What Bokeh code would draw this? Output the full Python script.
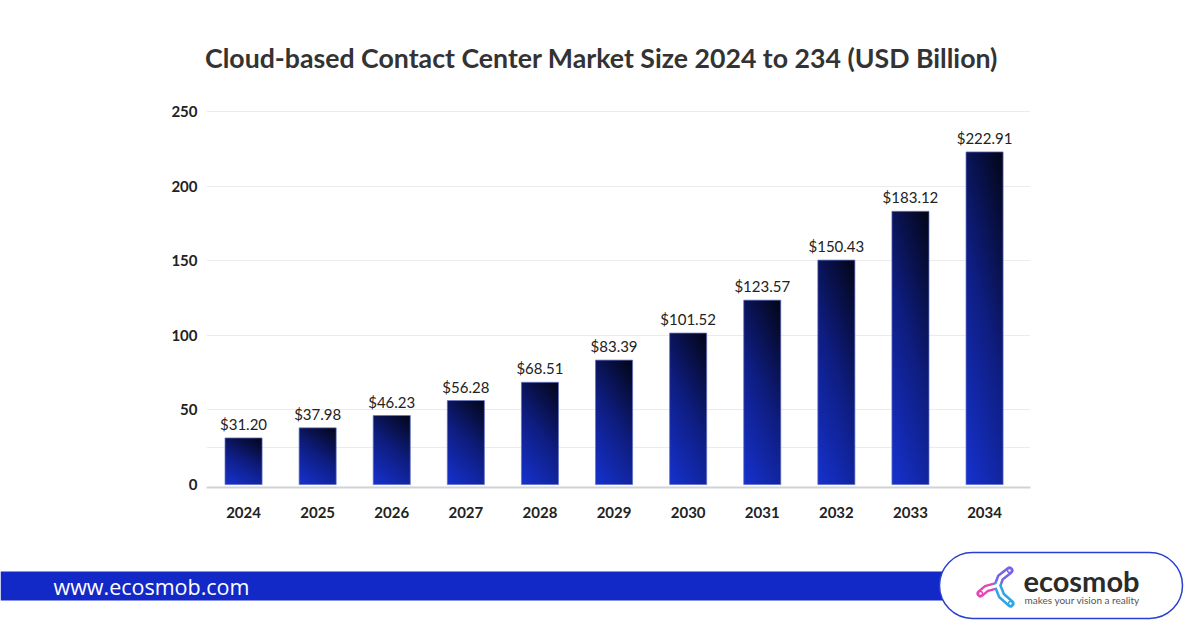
import numpy as np
from bokeh.plotting import figure
from bokeh.layouts import column
from bokeh.models import ColumnDataSource, Range1d, FixedTicker, LabelSet
from bokeh.core.properties import value
from bokeh.embed import file_html
from bokeh.resources import INLINE

# --- data ---
years = ["2024", "2025", "2026", "2027", "2028", "2029", "2030", "2031", "2032", "2033", "2034"]
market_size = [31.20, 37.98, 46.23, 56.28, 68.51, 83.39, 101.52, 123.57, 150.43, 183.12, 222.91]
y_ticks = [0, 50, 100, 150, 200, 250]
grid_ticks = [25, 50, 100, 150, 200, 250]

FONT = "Lato"
TEXT_DARK = "#222222"


def plain_panel(height, y_top, y_bottom):
    """A full-width drawing strip whose data units are page pixels."""
    fig = figure(width=1200, height=height, output_backend="svg", toolbar_location=None,
                 x_range=Range1d(0, 1200), y_range=Range1d(y_bottom, y_top),
                 min_border=0, min_border_left=0, min_border_right=0,
                 min_border_top=0, min_border_bottom=0)
    fig.axis.visible = False
    fig.grid.visible = False
    fig.outline_line_color = None
    fig.background_fill_color = "white"
    fig.border_fill_color = "white"
    fig.frame_align = False
    return fig


# --- diagonal gradient texture shared by every bar (bright blue bottom-left -> navy top-right) ---
def bar_gradient(nx=24, ny=160):
    u = np.linspace(0, 1, nx)[None, :]
    v = np.linspace(0, 1, ny)[:, None]
    t = np.clip(0.3 * u + 0.7 * v, 0, 1)
    stops_t = [0.0, 0.5, 1.0]
    stops_c = np.array([[22, 50, 206], [15, 30, 130], [4, 6, 24]], dtype=float)
    img = np.empty((ny, nx), dtype=np.uint32)
    view = img.view(dtype=np.uint8).reshape((ny, nx, 4))
    for ch in range(3):
        view[..., ch] = np.interp(t, stops_t, stops_c[:, ch]).astype(np.uint8)
    view[..., 3] = 255
    return img


idx = list(range(len(years)))
bar_w = 0.5
grad = bar_gradient()

src = ColumnDataSource(dict(
    x=idx,
    left=[i - bar_w / 2 for i in idx],
    top=market_size,
    width=[bar_w] * len(idx),
    image=[grad] * len(idx),
    label=[f"${v:.2f}" for v in market_size],
))

# --- header with the chart title ---
header = plain_panel(95, 0, 95)
header.text(x=[601], y=[57], text=["Cloud-based Contact Center Market Size 2024 to 234 (USD Billion)"],
            text_font=value(FONT), text_font_style="bold", text_font_size="26.7px",
            text_color="#333333", text_align="center", text_baseline="middle")

# --- main chart ---
p = figure(width=1200, height=450, output_backend="svg", toolbar_location=None,
           x_range=Range1d(-0.5, 10.62), y_range=Range1d(-2.0, 257.4),
           min_border_left=206, min_border_right=170, min_border_top=5, min_border_bottom=58)
p.frame_align = False
p.outline_line_color = None
p.background_fill_color = "white"
p.border_fill_color = "white"

p.image_rgba(image="image", x="left", y=0, dw="width", dh="top", source=src)
p.vbar(x="x", top="top", bottom=0, width=bar_w, source=src,
       fill_alpha=0, line_color="#5f6fc4", line_width=1, line_alpha=0.7)

labels = LabelSet(x="x", y="top", text="label", source=src, y_offset=5,
                  text_align="center", text_baseline="bottom",
                  text_font=value(FONT), text_font_size="15px", text_color=TEXT_DARK)
p.add_layout(labels)

# axes
p.xaxis.ticker = FixedTicker(ticks=idx)
p.xaxis.major_label_overrides = {i: y for i, y in zip(idx, years)}
p.xaxis.major_label_text_font = FONT
p.xaxis.major_label_text_font_style = "bold"
p.xaxis.major_label_text_font_size = "15px"
p.xaxis.major_label_text_color = TEXT_DARK
p.xaxis.major_label_standoff = 13
p.xaxis.major_tick_line_color = None
p.xaxis.minor_tick_line_color = None
p.xaxis.axis_line_color = "#cfd3d8"
p.xaxis.axis_line_width = 2

p.yaxis.ticker = FixedTicker(ticks=y_ticks)
p.yaxis.major_label_text_font = FONT
p.yaxis.major_label_text_font_style = "bold"
p.yaxis.major_label_text_font_size = "15px"
p.yaxis.major_label_text_color = TEXT_DARK
p.yaxis.major_label_text_align = "center"
p.yaxis.major_label_standoff = 3
p.yaxis.major_tick_line_color = None
p.yaxis.minor_tick_line_color = None
p.yaxis.axis_line_color = None

p.xgrid.visible = False
p.ygrid.ticker = FixedTicker(ticks=grid_ticks)
p.ygrid.grid_line_color = "#ebebeb"
p.ygrid.grid_line_width = 1

# --- footer band with site address and brand badge ---
f = plain_panel(85, 545, 630)

f.quad(left=0, right=970, top=571, bottom=600, fill_color="#1329c7", line_color=None)
f.text(x=[53], y=[586], text=["www.ecosmob.com"], text_font=value("Open Sans"),
       text_font_size="21.5px", text_color="white", text_baseline="middle")

f.quad(left=939, right=1182, top=552, bottom=618, fill_color="white",
       line_color="#2a3fd0", line_width=1.5, border_radius=33)

# three-armed emblem
arms_x = [[997, 1000, 1009], [997, 986, 980], [997, 1001, 1010]]
arms_y = [[585, 577, 570], [585, 588, 593], [585, 595, 603]]
arm_colors = ["#7a63e6", "#e246b8", "#2fa6e3"]
f.multi_line(xs=arms_x, ys=arms_y, line_color=arm_colors, line_width=8, line_cap="round",
             line_join="round")
f.multi_line(xs=arms_x, ys=arms_y, line_color="white", line_width=3, line_cap="round",
             line_join="round")
f.scatter(x=[1009, 980, 1010], y=[570, 593, 603], size=4, fill_color="white",
          line_color=arm_colors, line_width=1.5)

f.text(x=[1023], y=[580], text=["ecosmob"], text_font=value(FONT), text_font_style="bold",
       text_font_size="29px", text_color="#2b2b2b", text_baseline="middle")
f.text(x=[1024], y=[599], text=["makes your vision a reality"], text_font=value(FONT),
       text_font_size="10px", text_color="#555555", text_baseline="middle")

layout = column(header, p, f, spacing=0)
open("out.html", "w").write(file_html(layout, INLINE))
